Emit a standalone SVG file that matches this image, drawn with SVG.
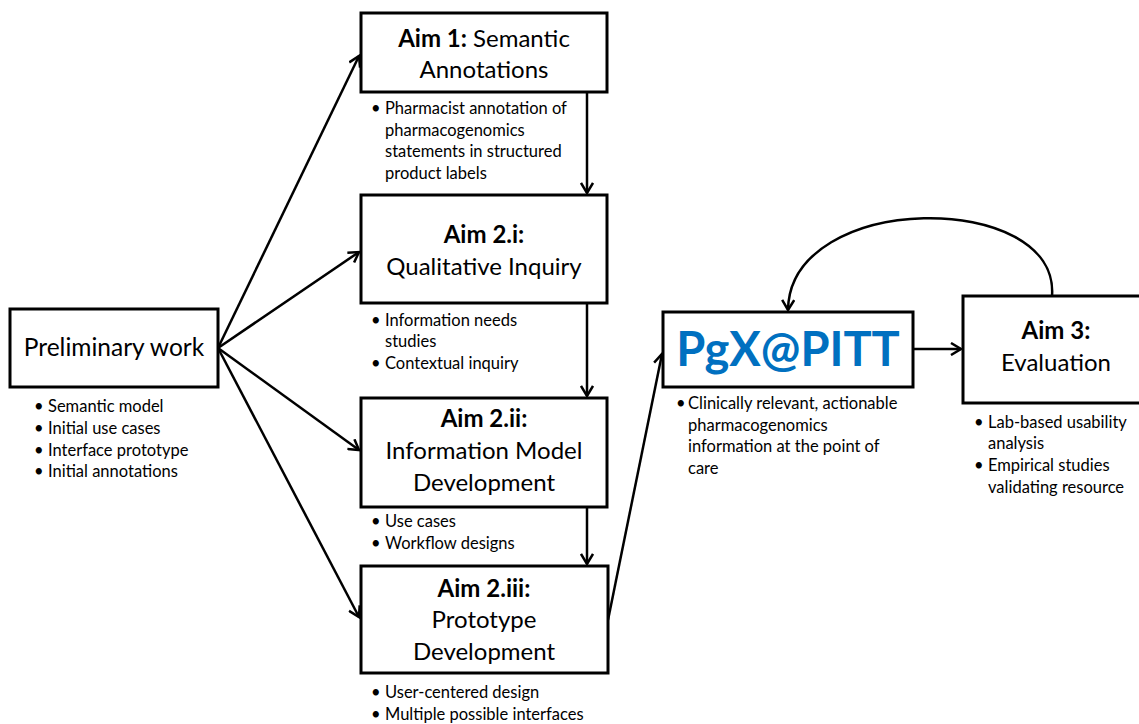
<svg xmlns="http://www.w3.org/2000/svg" width="1139" height="724" viewBox="0 0 1139 724">
<style>
.box{fill:#fff;stroke:#000;stroke-width:3}
.t{font-family:Lato,"Liberation Sans",sans-serif;font-size:24px;fill:#000;text-anchor:middle}
.b{font-weight:bold}
.s{font-family:Lato,"Liberation Sans",sans-serif;font-size:16.5px;fill:#000}
.c{fill:none;stroke:#000;stroke-width:2.5}
</style>
<defs>
<marker id="ah" markerWidth="14" markerHeight="14" refX="12" refY="7" orient="auto" markerUnits="userSpaceOnUse">
<polyline points="2,1 12,7 2,13" fill="none" stroke="#000" stroke-width="2.5"/>
</marker>
</defs>
<g id="connectors">
<line class="c" x1="218" y1="348" x2="359" y2="56" marker-end="url(#ah)"/>
<line class="c" x1="218" y1="348" x2="359" y2="252" marker-end="url(#ah)"/>
<line class="c" x1="218" y1="348" x2="359" y2="450" marker-end="url(#ah)"/>
<line class="c" x1="218" y1="348" x2="359" y2="617" marker-end="url(#ah)"/>
<line class="c" x1="587" y1="92" x2="587" y2="193" marker-end="url(#ah)"/>
<line class="c" x1="587" y1="303" x2="587" y2="396" marker-end="url(#ah)"/>
<line class="c" x1="587" y1="507" x2="587" y2="564" marker-end="url(#ah)"/>
<line class="c" x1="608" y1="620" x2="662" y2="354" marker-end="url(#ah)"/>
<line class="c" x1="913" y1="349" x2="961" y2="349" marker-end="url(#ah)"/>
<path class="c" d="M1052,296 C1060,190 790,190 788,310" marker-end="url(#ah)"/>
</g>
<g id="prelim">
<rect class="box" x="10" y="309" width="208" height="78"/>
<text class="t" x="114" y="356" style="font-size:24.5px">Preliminary work</text>
<text class="s" x="34" y="412">•</text><text class="s" x="48" y="412">Semantic model</text>
<text class="s" x="34" y="434">•</text><text class="s" x="48" y="434">Initial use cases</text>
<text class="s" x="34" y="456">•</text><text class="s" x="48" y="456">Interface prototype</text>
<text class="s" x="34" y="477">•</text><text class="s" x="48" y="477">Initial annotations</text>
</g>
<g id="aim1">
<rect class="box" x="361" y="13" width="246" height="79"/>
<text class="t" x="484" y="47"><tspan class="b">Aim 1:</tspan> Semantic</text>
<text class="t" x="484" y="78">Annotations</text>
<text class="s" x="371" y="114">•</text><text class="s" x="385" y="114">Pharmacist annotation of</text>
<text class="s" x="385" y="136">pharmacogenomics</text>
<text class="s" x="385" y="157">statements in structured</text>
<text class="s" x="385" y="179">product labels</text>
</g>
<g id="aim2i">
<rect class="box" x="361" y="195" width="246" height="108"/>
<text class="t b" x="484" y="243">Aim 2.i:</text>
<text class="t" x="484" y="275">Qualitative Inquiry</text>
<text class="s" x="371" y="326">•</text><text class="s" x="385" y="326">Information needs</text>
<text class="s" x="385" y="347">studies</text>
<text class="s" x="371" y="369">•</text><text class="s" x="385" y="369">Contextual inquiry</text>
</g>
<g id="aim2ii">
<rect class="box" x="361" y="398" width="246" height="109"/>
<text class="t b" x="484" y="427">Aim 2.ii:</text>
<text class="t" x="484" y="459">Information Model</text>
<text class="t" x="484" y="491">Development</text>
<text class="s" x="371" y="527">•</text><text class="s" x="385" y="527">Use cases</text>
<text class="s" x="371" y="549">•</text><text class="s" x="385" y="549">Workflow designs</text>
</g>
<g id="aim2iii">
<rect class="box" x="361" y="566" width="247" height="107"/>
<text class="t b" x="484" y="597">Aim 2.iii:</text>
<text class="t" x="484" y="628">Prototype</text>
<text class="t" x="484" y="660">Development</text>
<text class="s" x="371" y="698">•</text><text class="s" x="385" y="698">User-centered design</text>
<text class="s" x="371" y="720">•</text><text class="s" x="385" y="720">Multiple possible interfaces</text>
</g>
<g id="pgx">
<rect class="box" x="663" y="312" width="250" height="75"/>
<text class="t b" x="788" y="366" style="font-size:47px;fill:#0070C0">PgX@PITT</text>
<text class="s" x="676" y="409">•</text><text class="s" x="688" y="409">Clinically relevant, actionable</text>
<text class="s" x="688" y="431">pharmacogenomics</text>
<text class="s" x="688" y="452">information at the point of</text>
<text class="s" x="688" y="474">care</text>
</g>
<g id="aim3">
<rect class="box" x="963" y="296" width="190" height="107"/>
<text class="t b" x="1056" y="339">Aim 3:</text>
<text class="t" x="1056" y="371">Evaluation</text>
<text class="s" x="974" y="428">•</text><text class="s" x="988" y="428">Lab-based usability</text>
<text class="s" x="988" y="449">analysis</text>
<text class="s" x="974" y="471">•</text><text class="s" x="988" y="471">Empirical studies</text>
<text class="s" x="988" y="493">validating resource</text>
</g>
</svg>
